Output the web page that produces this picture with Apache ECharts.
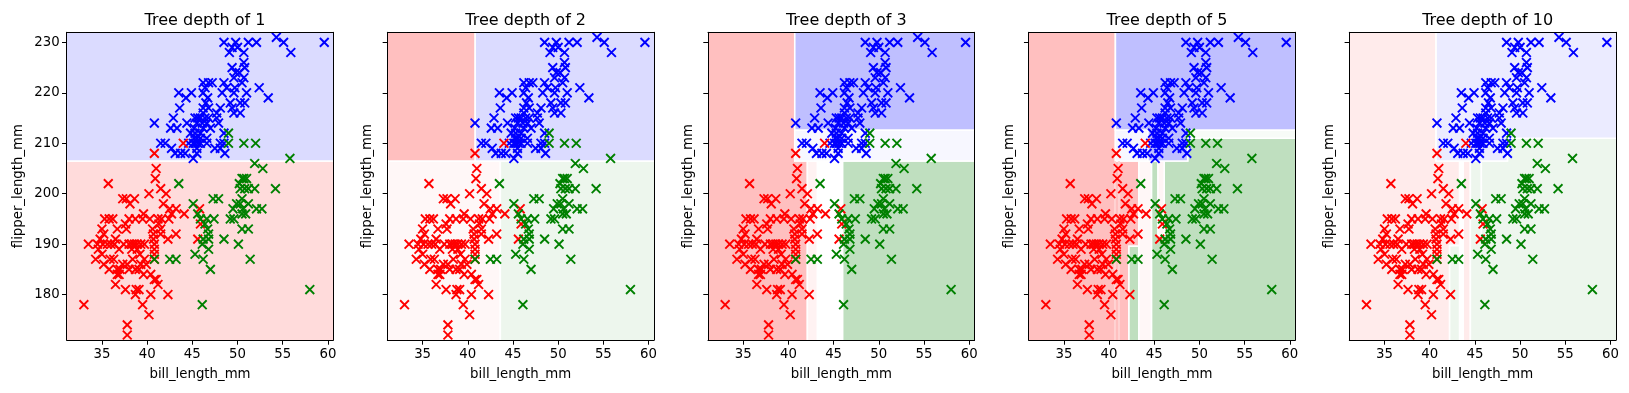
<!DOCTYPE html>
<html><head><meta charset="utf-8">
<script src="https://cdn.jsdelivr.net/npm/echarts@6/dist/echarts.min.js"></script>
<style>html,body{margin:0;padding:0;background:#fff}#c{width:1629px;height:393px}</style>
</head><body><div id="c"></div>
<script>
// ---------------- data ----------------
const depths = [1, 2, 3, 5, 10];
const xTicks = [35, 40, 45, 50, 55, 60];
const yTicks = [180, 190, 200, 210, 220, 230];
const xRange = [31.1, 60.6];
const yRange = [171, 232];
const xName = 'bill_length_mm';
const yName = 'flipper_length_mm';

// [bill_length_mm, flipper_length_mm]
const adelie = [
[40.8,208],[44.0,210],[41.0,205],[40.9,203],[35.7,202],[41.5,201],[40.2,200],[42.1,200],
[37.3,199],[37.7,199],[38.6,199],[38.1,198],[41.8,198],[43.2,197],[42.5,197],[45.8,197],
[39.6,196],[42.7,196],[44.1,196],[35.3,195],[35.8,195],[36.2,195],[38.0,195],[38.7,195],[39.5,195],[40.3,195],[41.2,195],[41.6,195],[42.4,195],
[37.6,194],[41.3,194],[45.9,194],[35.0,193],[36.7,193],[37.7,193],[40.6,193],[41.5,193],
[35.2,192],[40.7,192],[41.5,192],[43.2,192],
[34.8,191],[36.5,191],[40.7,191],[42.3,191],[45.6,191],
[33.5,190],[34.5,190],[35.1,190],[35.6,190],[36.0,190],[36.4,190],[37.4,190],[38.0,190],[38.3,190],[38.6,190],[38.9,190],[39.3,190],[39.7,190],[40.8,190],
[34.6,189],[36.9,189],[38.3,189],[38.9,189],[40.8,189],
[35.0,188],[39.2,188],[40.8,188],
[34.3,187],[35.9,187],[36.3,187],[38.4,187],[39.7,187],[40.8,187],
[35.2,186],[37.3,186],[37.8,186],[39.3,186],[39.9,186],
[35.8,185],[36.7,185],[37.0,185],[38.0,185],[38.7,185],[39.1,185],
[36.7,184],[36.9,184],[39.6,184],[40.4,184],
[41.0,183],[40.8,183],[36.5,182],[41.2,182],
[37.6,181],[38.8,181],[39.1,181],
[38.7,180],[40.4,180],[42.3,180],
[33.0,178],[39.5,178],[40.2,176],[37.8,174],[37.8,172]
];
const gentoo = [
[48.5,230],[49.8,230],[49.4,229],[50.0,229],[51.2,230],[52.1,230],[54.3,231],[55.1,230],[55.9,228],[59.6,230],[49.1,228],[50.7,228],
[50.7,226],[50.8,225],[49.4,225],[49.8,224],[50.2,224],[50.7,223],[50.5,222],[49.6,223],
[46.2,222],[46.8,222],[47.2,222],[48.5,222],[48.8,221],[46.4,221],[49.7,221],[52.4,221],
[43.5,220],[44.9,220],[46.2,220],[48.3,220],[49.6,220],[51.0,220],
[44.3,219],[46.7,219],[53.4,219],
[49.2,218],[50.3,218],[50.8,218],[46.5,218],
[43.6,217],[46.2,217],[48.1,217],[46.8,217],[49.4,217],
[46.2,216],[47.7,216],[50.3,216],[49.6,216],
[42.9,215],[45.3,215],[45.9,215],[46.4,215],[46.8,215],[47.7,215],[45.6,215],
[40.8,214],[44.4,214],[45.5,214],[46.6,214],[47.9,214],[46.1,214],
[42.6,213],[43.3,213],[45.2,213],[46.2,213],[47.0,213],
[44.8,212],[45.9,212],[48.5,212],[45.3,212],
[45.2,211],[45.9,211],[46.6,211],[45.5,211],
[41.5,210],[42.0,210],[44.6,210],[45.3,210],[45.6,210],[45.9,210],[46.6,210],[48.1,210],[45.1,210],[48.5,210],
[42.7,209],[45.5,209],[48.1,209],[47.5,209],
[43.1,208],[43.7,208],[44.2,208],[48.6,208],[45.5,208],
[45.1,207]
];
const chinstrap = [
[49.0,212],[49.0,210],[50.7,210],[52.0,210],[55.8,207],[51.9,206],[52.8,205],
[50.7,203],[51.0,203],[50.5,203],[43.5,202],[50.2,202],[54.2,201],[50.3,201],[51.2,201],[51.9,201],[50.8,201],
[47.3,199],[47.9,199],[49.9,198],[50.3,198],[51.2,198],[45.1,198],[50.5,199],
[52.1,197],[52.7,197],[49.5,197],[50.6,197],
[45.6,196],[50.9,196],[50.5,196],
[45.9,195],[46.6,195],[47.4,195],[49.2,195],[49.6,195],[46.4,194],
[46.7,193],[50.5,193],[51.2,193],[46.8,192],
[48.5,191],[46.2,191],[46.8,191],
[46.1,190],[50.1,190],[46.8,189],[45.3,188],
[40.8,187],[42.5,187],[43.2,187],[46.2,187],[51.4,187],
[47.0,185],[46.1,178],[58.0,181]
];

// decision regions per depth, as polygons in data space:
// [class (0 Adelie, 1 Gentoo, 2 Chinstrap, -1 none), shade, [x,y], [x,y], ...]
const regionsDepth1 = [
[0,0.14,[31.1,171],[60.6,171],[60.6,206.5],[31.1,206.5]],
[1,0.14,[31.1,206.5],[60.6,206.5],[60.6,232],[31.1,232]]
];
const regionsDepth2 = [
[0,0.03,[31.1,171],[43.6,171],[43.6,206.5],[31.1,206.5]],
[2,0.07,[43.6,171],[60.6,171],[60.6,206.5],[43.6,206.5]],
[1,0.14,[40.8,206.5],[60.6,206.5],[60.6,232],[40.8,232]],
[0,0.25,[31.1,206.5],[40.8,206.5],[40.8,232],[31.1,232]]
];
const regionsDepth3 = [
[0,0.25,[31.1,171],[42.1,171],[42.1,206.5],[40.7,206.5],[40.7,232],[31.1,232]],
[0,0.05,[42.1,171],[43.2,171],[43.2,206.5],[42.1,206.5]],
[2,0.25,[46.0,171],[60.6,171],[60.6,206.5],[46.0,206.5]],
[1,0.03,[40.7,206.5],[60.6,206.5],[60.6,212.6],[40.7,212.6]],
[1,0.25,[40.7,212.6],[60.6,212.6],[60.6,232],[40.7,232]]
];
const regionsDepth5 = [
[0,0.25,[31.1,171],[42.2,171],[42.2,189.6],[43.3,189.6],[43.3,206.5],[40.7,206.5],[40.7,232],[31.1,232]],
[2,0.25,[42.2,171],[43.3,171],[43.3,189.6],[42.2,189.6]],
[0,0.03,[43.3,171],[44.7,171],[44.7,206.5],[43.3,206.5]],
[2,0.25,[44.7,171],[60.6,171],[60.6,211.0],[48.7,211.0],[48.7,206.5],[44.7,206.5]],
[0,0.04,[45.4,191.7],[46.1,191.7],[46.1,206.5],[45.4,206.5]],
[2,0.03,[48.7,211.0],[60.6,211.0],[60.6,212.6],[48.7,212.6]],
[1,0.03,[40.7,206.5],[44.3,206.5],[44.3,212.6],[40.7,212.6]],
[1,0.25,[40.7,232],[60.6,232],[60.6,212.6],[48.7,212.6],[48.7,206.5],[44.3,206.5],[44.3,212.6],[40.7,212.6]]
];
const regionsDepth10 = [
[0,0.08,[31.1,171],[42.2,171],[42.2,189.7],[43.3,189.7],[43.3,206.5],[40.7,206.5],[40.7,232],[31.1,232]],
[2,0.07,[42.2,171],[43.3,171],[43.3,189.7],[42.2,189.7]],
[0,0.08,[43.7,171],[44.5,171],[44.5,206.5],[43.7,206.5]],
[2,0.07,[44.5,171],[60.6,171],[60.6,211.0],[48.6,211.0],[48.6,206.5],[44.5,206.5]],
[1,0.08,[40.7,206.5],[48.6,206.5],[48.6,211.0],[60.6,211.0],[60.6,232],[40.7,232]]
];
const regionsByPanel = [regionsDepth1, regionsDepth2, regionsDepth3, regionsDepth5, regionsDepth10];
// thin unoutlined bands: [panel, x0, x1, y0, y1, class, shade]
const bands = [
[3,40.55,40.75,171,206.5,0,0.17],
[3,41.0,41.2,171,206.5,0,0.17],
[4,45.6,45.8,191.5,206.5,-1,0]
];

// ---------------- styling / layout ----------------
const FONT = 'DejaVu Sans';
const classColors = ['#ff0000', '#0000ff', '#008000'];
const baseRGB = [[255,0,0],[0,0,255],[0,128,0]];
function shadeColor(cls, a) {
  if (cls < 0) return '#ffffff';
  const b = baseRGB[cls];
  return 'rgb(' + b.map(v => Math.round(255 + (v - 255) * a)).join(',') + ')';
}
const L = { left0: 66.7, step: 320.65, width: 266.6, top: 32.3, height: 307.7 };

function padPoint(api, p) {
  // push region vertices lying on the frame a little outward so the white outline is hidden by clipping
  const c = api.coord(p).slice();
  if (p[0] <= xRange[0]) c[0] -= 4;
  if (p[0] >= xRange[1]) c[0] += 4;
  if (p[1] <= yRange[0]) c[1] += 4;
  if (p[1] >= yRange[1]) c[1] -= 4;
  return c;
}

const grids = [], xAxes = [], yAxes = [], series = [], titles = [];
depths.forEach((d, i) => {
  const left = L.left0 + i * L.step;
  grids.push({ left: left, top: L.top, width: L.width, height: L.height, containLabel: false });
  titles.push({
    text: 'Tree depth of ' + d, left: left + L.width / 2, top: 8, textAlign: 'center',
    textStyle: { fontFamily: FONT, fontSize: 16, fontWeight: 'normal', color: '#000' }
  });
  const common = { type: 'value', gridIndex: i, min: xRange[0], max: xRange[1], splitLine: { show: false }, z: 5 };
  xAxes.push(Object.assign({}, common, {
    position: 'bottom',
    name: xName, nameLocation: 'middle', nameGap: 28,
    nameTextStyle: { fontFamily: FONT, fontSize: 13.3, color: '#000' },
    axisLine: { show: true, onZero: false, lineStyle: { color: '#000', width: 1 } },
    axisTick: { show: true, length: 4.7, customValues: xTicks, lineStyle: { color: '#000', width: 1 } },
    axisLabel: { show: true, customValues: xTicks, margin: 8, fontFamily: FONT, fontSize: 13.3, color: '#000' }
  }));
  xAxes.push(Object.assign({}, common, {
    position: 'top',
    axisLine: { show: true, onZero: false, lineStyle: { color: '#000', width: 1 } },
    axisTick: { show: false }, axisLabel: { show: false }
  }));
  const ycommon = { type: 'value', gridIndex: i, min: yRange[0], max: yRange[1], splitLine: { show: false }, z: 5 };
  yAxes.push(Object.assign({}, ycommon, {
    position: 'left',
    name: yName, nameLocation: 'middle', nameGap: i === 0 ? 42 : 13,
    nameTextStyle: { fontFamily: FONT, fontSize: 13.3, color: '#000' },
    axisLine: { show: true, onZero: false, lineStyle: { color: '#000', width: 1 } },
    axisTick: { show: true, length: 4.7, customValues: yTicks, lineStyle: { color: '#000', width: 1 } },
    axisLabel: { show: i === 0, customValues: yTicks, margin: 7, fontFamily: FONT, fontSize: 13.3, color: '#000' }
  }));
  yAxes.push(Object.assign({}, ycommon, {
    position: 'right',
    axisLine: { show: true, onZero: false, lineStyle: { color: '#000', width: 1 } },
    axisTick: { show: false }, axisLabel: { show: false }
  }));
  const xi = 2 * i, yi = 2 * i;
  const regs = regionsByPanel[i];
  series.push({
    type: 'custom', xAxisIndex: xi, yAxisIndex: yi, clip: true, z: 1, silent: true,
    data: regs.map((r, k) => [k]),
    encode: { x: [], y: [] },
    renderItem: function (params, api) {
      const r = regs[api.value(0)];
      const pts = r.slice(2).map(p => padPoint(api, p));
      return {
        type: 'polygon', shape: { points: pts },
        style: { fill: shadeColor(r[0], r[1]), stroke: '#ffffff', lineWidth: 1.6 }
      };
    }
  });
  const myBands = bands.filter(b => b[0] === i);
  if (myBands.length) {
    series.push({
      type: 'custom', xAxisIndex: xi, yAxisIndex: yi, clip: true, z: 2, silent: true,
      data: myBands.map(b => b.slice(1)),
      encode: { x: [0, 1], y: [2, 3] },
      renderItem: function (params, api) {
        const p0 = api.coord([api.value(0), api.value(3)]);
        const p1 = api.coord([api.value(1), api.value(2)]);
        return {
          type: 'rect', shape: { x: p0[0], y: p0[1], width: p1[0] - p0[0], height: p1[1] - p0[1] },
          style: { fill: shadeColor(api.value(4), api.value(5)) }
        };
      }
    });
  }
  const sets = [[gentoo, 1], [adelie, 0], [chinstrap, 2]];
  sets.forEach(([pts, c]) => {
    series.push({
      type: 'scatter', xAxisIndex: xi, yAxisIndex: yi, z: 3, silent: true,
      data: pts,
      symbol: 'path://M0,0L10,10M10,0L0,10',
      symbolSize: 8.8,
      itemStyle: { color: 'rgba(0,0,0,0)', borderColor: classColors[c], borderWidth: 1.9, opacity: 1 }
    });
  });
});

const chart = echarts.init(document.getElementById('c'), null, { renderer: 'canvas' });
chart.setOption({
  animation: false,
  backgroundColor: '#ffffff',
  textStyle: { fontFamily: FONT },
  title: titles,
  grid: grids,
  xAxis: xAxes,
  yAxis: yAxes,
  series: series
});
</script>
</body></html>
